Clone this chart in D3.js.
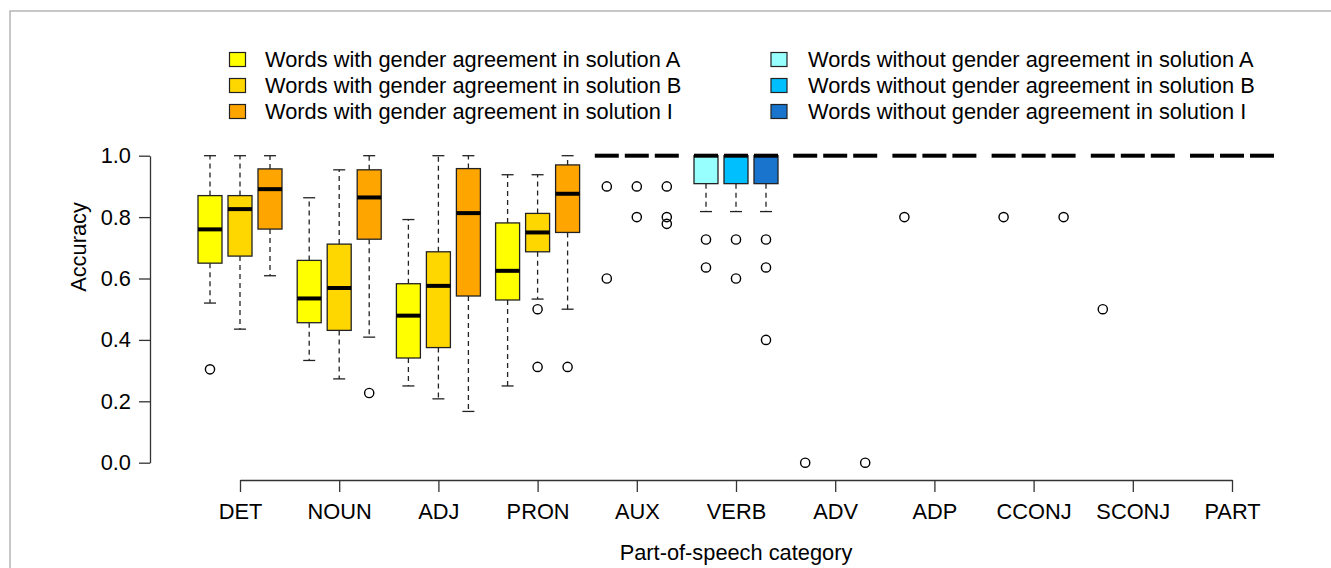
<!DOCTYPE html>
<html>
<head>
<meta charset="utf-8">
<script src="https://cdn.jsdelivr.net/npm/d3@7"></script>
<style>
  body { margin: 0; background: #fff; }
  svg { font-family: "Liberation Sans", Arial, sans-serif; }
</style>
</head>
<body>
<div id="chart"></div>
<script>
// categories on the x axis
var categories = ["DET", "NOUN", "ADJ", "PRON", "AUX", "VERB", "ADV", "ADP", "CCONJ", "SCONJ", "PART"];
// first four categories carry gender agreement
var agreement = [true, true, true, true, false, false, false, false, false, false, false];
var solutions = ["A", "B", "I"];

// boxplot stats per category: [lower whisker, q1, median, q3, upper whisker]
var statsA = [
  [0.52, 0.65, 0.76, 0.87, 1.0],
  [0.333, 0.456, 0.535, 0.659, 0.863],
  [0.25, 0.341, 0.479, 0.583, 0.792],
  [0.25, 0.53, 0.625, 0.781, 0.938],
  [1, 1, 1, 1, 1],
  [0.818, 0.909, 1, 1, 1],
  [1, 1, 1, 1, 1],
  [1, 1, 1, 1, 1],
  [1, 1, 1, 1, 1],
  [1, 1, 1, 1, 1],
  [1, 1, 1, 1, 1]
];
var statsB = [
  [0.435, 0.673, 0.826, 0.87, 1.0],
  [0.273, 0.431, 0.569, 0.712, 0.954],
  [0.208, 0.375, 0.576, 0.687, 1.0],
  [0.533, 0.687, 0.75, 0.812, 0.938],
  [1, 1, 1, 1, 1],
  [0.818, 0.909, 1, 1, 1],
  [1, 1, 1, 1, 1],
  [1, 1, 1, 1, 1],
  [1, 1, 1, 1, 1],
  [1, 1, 1, 1, 1],
  [1, 1, 1, 1, 1]
];
var statsI = [
  [0.609, 0.761, 0.891, 0.957, 1.0],
  [0.409, 0.728, 0.864, 0.954, 1.0],
  [0.167, 0.543, 0.813, 0.958, 1.0],
  [0.5, 0.75, 0.876, 0.97, 1.0],
  [1, 1, 1, 1, 1],
  [0.818, 0.909, 1, 1, 1],
  [1, 1, 1, 1, 1],
  [1, 1, 1, 1, 1],
  [1, 1, 1, 1, 1],
  [1, 1, 1, 1, 1],
  [1, 1, 1, 1, 1]
];

// outliers per category
var outliersA = [[0.304], [], [], [], [0.9, 0.6], [0.727, 0.636], [0], [0.8], [0.8], [0.5], []];
var outliersB = [[], [], [], [0.5, 0.312], [0.9, 0.8], [0.727, 0.6], [], [], [], [], []];
var outliersI = [[], [0.227], [], [0.312], [0.9, 0.8, 0.778], [0.727, 0.636, 0.4], [0], [], [0.8], [], []];

var colorsWith = ["#FFFF00", "#FFD700", "#FFA500"];
var colorsWithout = ["#98FFFF", "#00BFFF", "#1874CD"];
var legendWith = ["Words with gender agreement in solution A",
                  "Words with gender agreement in solution B",
                  "Words with gender agreement in solution I"];
var legendWithout = ["Words without gender agreement in solution A",
                     "Words without gender agreement in solution B",
                     "Words without gender agreement in solution I"];
var yTicks = [0, 0.2, 0.4, 0.6, 0.8, 1.0];

var width = 1331, height = 568;
var boxW = 24;
var fs = 21.8;

var svg = d3.select("#chart").append("svg")
    .attr("width", width)
    .attr("height", height);

// frame
svg.append("rect")
    .attr("x", 10).attr("y", 11)
    .attr("width", 1400).attr("height", 700)
    .attr("fill", "none")
    .attr("stroke", "#aaa")
    .attr("stroke-width", 1.3);

var x = d3.scalePoint().domain(categories).range([240, 1232]);
var xs = d3.scalePoint().domain(solutions).range([-30, 30]);
var y = d3.scaleLinear().domain([0, 1]).range([462.7, 155.7]);

// y axis
var gy = svg.append("g")
    .attr("transform", "translate(150,0)")
    .call(d3.axisLeft(y).tickValues(yTicks).tickFormat(d3.format(".1f")).tickSize(11).tickSizeOuter(0).tickPadding(8));
gy.selectAll("text").attr("font-size", fs).attr("fill", "#000").attr("font-family", "Liberation Sans, Arial, sans-serif");
gy.selectAll("line, path").attr("stroke", "#333").attr("stroke-width", 1.3);

// x axis
var gx = svg.append("g")
    .attr("transform", "translate(0,480)")
    .call(d3.axisBottom(x).tickSize(12).tickSizeOuter(0).tickPadding(12));
gx.selectAll("text").attr("font-size", fs).attr("fill", "#000").attr("font-family", "Liberation Sans, Arial, sans-serif");
gx.selectAll("line, path").attr("stroke", "#333").attr("stroke-width", 1.3);

svg.append("text")
    .attr("x", 736).attr("y", 560)
    .attr("text-anchor", "middle")
    .attr("font-size", fs)
    .text("Part-of-speech category");

svg.append("text")
    .attr("transform", "translate(86,247) rotate(-90)")
    .attr("text-anchor", "middle")
    .attr("font-size", fs)
    .text("Accuracy");

// flatten boxes
var allStats = [statsA, statsB, statsI];
var allOut = [outliersA, outliersB, outliersI];
var boxes = [];
categories.forEach(function(c, i) {
    solutions.forEach(function(s, j) {
        var st = allStats[j][i];
        boxes.push({
            cat: c, sol: s,
            lo: st[0], q1: st[1], med: st[2], q3: st[3], hi: st[4],
            out: allOut[j][i],
            color: agreement[i] ? colorsWith[j] : colorsWithout[j]
        });
    });
});

var g = svg.selectAll(".box").data(boxes).enter().append("g")
    .attr("class", "box")
    .attr("transform", function(d) { return "translate(" + (x(d.cat) + xs(d.sol)) + ",0)"; });

// whiskers
g.append("line")
    .attr("x1", 0).attr("x2", 0)
    .attr("y1", function(d) { return y(d.q3); })
    .attr("y2", function(d) { return y(d.hi); })
    .attr("stroke", "#222").attr("stroke-width", 1.3).attr("stroke-dasharray", "5,4");
g.append("line")
    .attr("x1", 0).attr("x2", 0)
    .attr("y1", function(d) { return y(d.q1); })
    .attr("y2", function(d) { return y(d.lo); })
    .attr("stroke", "#222").attr("stroke-width", 1.3).attr("stroke-dasharray", "5,4");
// staples
g.append("line")
    .attr("x1", -boxW / 4).attr("x2", boxW / 4)
    .attr("y1", function(d) { return y(d.hi); })
    .attr("y2", function(d) { return y(d.hi); })
    .attr("stroke", "#222").attr("stroke-width", 1.3);
g.append("line")
    .attr("x1", -boxW / 4).attr("x2", boxW / 4)
    .attr("y1", function(d) { return y(d.lo); })
    .attr("y2", function(d) { return y(d.lo); })
    .attr("stroke", "#222").attr("stroke-width", 1.3);

// box
g.append("rect")
    .attr("x", -boxW / 2)
    .attr("width", boxW)
    .attr("y", function(d) { return y(d.q3); })
    .attr("height", function(d) { return y(d.q1) - y(d.q3); })
    .attr("fill", function(d) { return d.color; })
    .attr("stroke", "#222").attr("stroke-width", 1.3);

// median
g.append("line")
    .attr("x1", -boxW / 2).attr("x2", boxW / 2)
    .attr("y1", function(d) { return y(d.med); })
    .attr("y2", function(d) { return y(d.med); })
    .attr("stroke", "#000").attr("stroke-width", 4);

// outliers
g.selectAll(".out").data(function(d) { return d.out; }).enter().append("circle")
    .attr("class", "out")
    .attr("cx", 0)
    .attr("cy", function(v) { return y(v); })
    .attr("r", 4.6)
    .attr("fill", "none")
    .attr("stroke", "#000").attr("stroke-width", 1.4);

// legend
function legend(items, colors, bx, tx) {
    items.forEach(function(t, i) {
        var cy = 59.5 + i * 26;
        svg.append("rect")
            .attr("x", bx).attr("y", cy - 7)
            .attr("width", 16).attr("height", 14)
            .attr("fill", colors[i])
            .attr("stroke", "#222").attr("stroke-width", 1.2);
        svg.append("text")
            .attr("x", tx).attr("y", cy + 7.5)
            .attr("font-size", fs)
            .text(t);
    });
}
legend(legendWith, colorsWith, 229.5, 265);
legend(legendWithout, colorsWithout, 771, 808);
</script>
</body>
</html>
